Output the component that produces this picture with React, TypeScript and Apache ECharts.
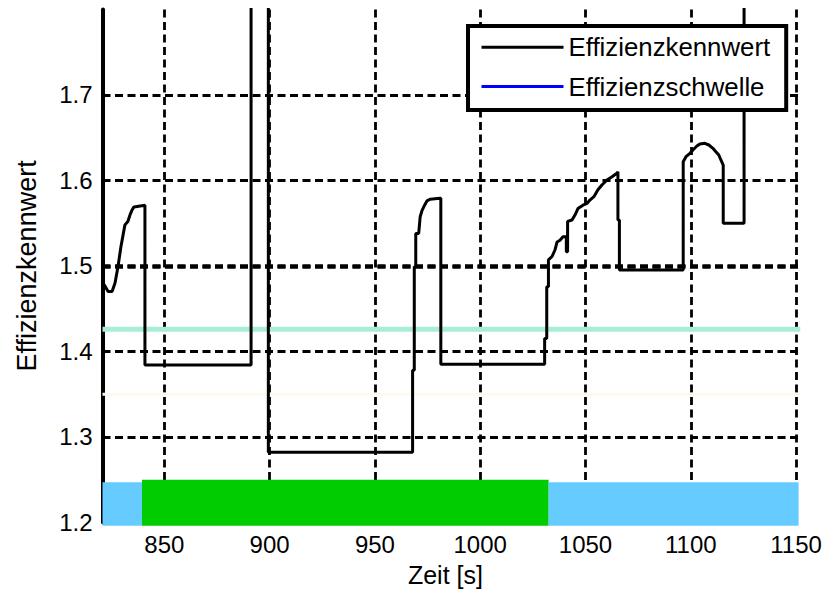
import React, { useEffect, useRef } from "react";
import * as echarts from "echarts";

// ---- data ----
const kennwertTime = [
  820.9, 821.8, 823.3, 825.2, 826.6, 828.0, 829.4, 830.4, 831.3, 832.7, 833.7, 834.6, 835.6, 840.8,
  840.8, 891.2, 891.2, 899.4, 899.4, 967.9, 967.9, 968.7, 968.7, 969.4, 969.4, 970.8, 971.5, 972.4,
  973.6, 974.7, 976.2, 980.9, 981.3, 981.3, 1030.6, 1030.6, 1031.6, 1031.6, 1032.4, 1032.4, 1034.1,
  1035.5, 1036.5, 1037.9, 1039.3, 1040.9, 1040.9, 1041.5, 1041.5, 1043.6, 1045.0, 1046.4, 1048.8,
  1050.7, 1052.1, 1054.0, 1055.9, 1057.8, 1060.2, 1062.6, 1064.9, 1065.4, 1065.4, 1066.1, 1066.1,
  1096.4, 1096.4, 1097.7, 1099.6, 1101.0, 1102.9, 1104.3, 1106.7, 1108.6, 1110.5, 1111.9, 1113.3,
  1114.3, 1115.4, 1115.4, 1125.3, 1125.3,
];
const kennwertValue = [
  1.48, 1.4765, 1.47, 1.47, 1.48, 1.499, 1.5225, 1.536, 1.548, 1.552, 1.5595, 1.565, 1.569, 1.571,
  1.384, 1.384, 1.95, 1.95, 1.282, 1.282, 1.378, 1.378, 1.499, 1.499, 1.538, 1.538, 1.5575, 1.565,
  1.571, 1.576, 1.578, 1.579, 1.579, 1.385, 1.385, 1.415, 1.415, 1.4757, 1.4757, 1.507, 1.511,
  1.5186, 1.528, 1.53, 1.534, 1.534, 1.5166, 1.5166, 1.552, 1.5537, 1.5595, 1.567, 1.571,
  1.573, 1.577, 1.581, 1.589, 1.5946, 1.6005, 1.6043, 1.6083, 1.61, 1.5537, 1.5537, 1.4952,
  1.4952, 1.6219, 1.6277, 1.6317, 1.6356, 1.6402, 1.6426, 1.6434, 1.6414, 1.6375, 1.6336, 1.6297,
  1.6239, 1.618, 1.5498, 1.5498, 1.95,
];
const schwelleLevel = 1.35;
const referenceLevel = 1.426;
const stateStart = [820.65, 839.4, 1032.5];
const stateEnd = [839.4, 1032.5, 1151.2];
const stateTop = [1.247, 1.25, 1.247];
const stateKind = ["idle", "active", "idle"];
const stateBase = 1.196;
const xRange = [820.65, 1152];
const yRange = [1.2, 1.8];

const FONT = "Liberation Sans";
const stateColors: Record<string, string> = { idle: "#66ccff", active: "#00cc00" };
const gridDash = [8, 4.5];

export default function App() {
  const ref = useRef<HTMLDivElement>(null);
  useEffect(() => {
    if (!ref.current) return;
    const chart = echarts.init(ref.current, undefined, { renderer: "svg" });
    const kennwert = kennwertTime.map((t, i) => [t, kennwertValue[i]]);
    const states = stateStart.map((s, i) => [s, stateEnd[i], stateTop[i], i]);
    chart.setOption({
      animation: false,
      backgroundColor: "#fff",
      grid: {
        left: 102.5, right: 22.7, top: 9.4, bottom: 72.6,
        containLabel: false, outerBoundsMode: "none",
      },
      legend: {
        data: [
          { name: "Effizienzkennwert" },
          { name: "Effizienzschwelle", lineStyle: { color: "#0000ff" } },
        ],
        orient: "vertical",
        left: 468,
        top: 26,
        padding: [8.2, 16, 10.5, 12],
        itemWidth: 82,
        itemHeight: 25,
        itemGap: 13.3,
        backgroundColor: "#fff",
        borderColor: "#000",
        borderWidth: 4,
        borderRadius: 0,
        selectedMode: false,
        itemStyle: { opacity: 0 },
        lineStyle: { width: 3 },
        textStyle: { fontSize: 25.8, color: "#000", fontFamily: FONT, lineHeight: 25 },
      },
      xAxis: {
        type: "value",
        min: xRange[0],
        max: xRange[1],
        splitNumber: 6,
        axisLine: { show: false },
        axisTick: { show: false },
        axisLabel: {
          fontSize: 24, color: "#000", fontFamily: FONT, margin: 10,
          showMinLabel: false, showMaxLabel: false,
          formatter: (v: number) => String(v),
        },
        splitLine: {
          show: true, showMinLine: false, showMaxLine: false,
          lineStyle: { color: "#000", type: gridDash, width: 2.8 },
        },
        name: "Zeit [s]",
        nameLocation: "middle",
        nameGap: 40,
        nameTextStyle: { fontSize: 25, color: "#000", fontFamily: FONT, padding: [0, 12, 0, 0] },
      },
      yAxis: {
        type: "value",
        min: yRange[0],
        max: yRange[1],
        interval: 0.1,
        axisLine: { show: true, lineStyle: { color: "#000", width: 4 } },
        axisTick: { show: false },
        axisLabel: {
          fontSize: 24, color: "#000", fontFamily: FONT, margin: 10,
          showMaxLabel: false,
          formatter: (v: number) => v.toFixed(1),
        },
        splitLine: {
          show: true, showMinLine: false, showMaxLine: false,
          lineStyle: { color: "#000", type: gridDash, width: 2.8 },
        },
        name: "Effizienzkennwert",
        nameLocation: "middle",
        nameGap: 62,
        nameRotate: 90,
        nameTextStyle: { fontSize: 27, color: "#000", fontFamily: FONT },
      },
      series: [
        {
          type: "custom",
          name: "Zustand",
          silent: true,
          clip: false,
          data: states,
          encode: { x: [0, 1], y: 2 },
          renderItem: (params: any, api: any) => {
            const p0 = api.coord([api.value(0), api.value(2)]);
            const p1 = api.coord([api.value(1), stateBase]);
            const kind = stateKind[api.value(3)];
            return {
              type: "rect",
              shape: { x: p0[0], y: p0[1], width: p1[0] - p0[0], height: p1[1] - p0[1] },
              style: { fill: stateColors[kind] },
            };
          },
          markLine: {
            silent: true,
            symbol: "none",
            label: { show: false },
            lineStyle: { color: "#000", type: gridDash, width: 4.5 },
            data: [{ yAxis: 1.5 }],
          },
        },
        {
          type: "line",
          name: "Referenz",
          symbol: "none",
          silent: true,
          data: [[xRange[0], referenceLevel], [xRange[1], referenceLevel]],
          lineStyle: { color: "#a8eed6", width: 5 },
        },
        {
          type: "line",
          name: "Effizienzschwelle",
          symbol: "none",
          silent: true,
          data: [[xRange[0], schwelleLevel], [xRange[1], schwelleLevel]],
          itemStyle: { color: "#0000ff" },
          lineStyle: { color: "#fffaf0", width: 3 },
        },
        {
          type: "line",
          name: "Effizienzkennwert",
          symbol: "none",
          silent: true,
          data: kennwert,
          itemStyle: { color: "#000" },
          lineStyle: { color: "#000", width: 3 },
        },
      ],
    });
    return () => chart.dispose();
  }, []);
  return (
    <div
      ref={ref}
      style={{ position: "fixed", left: 0, top: 0, width: 823, height: 595, background: "#fff" }}
    />
  );
}
